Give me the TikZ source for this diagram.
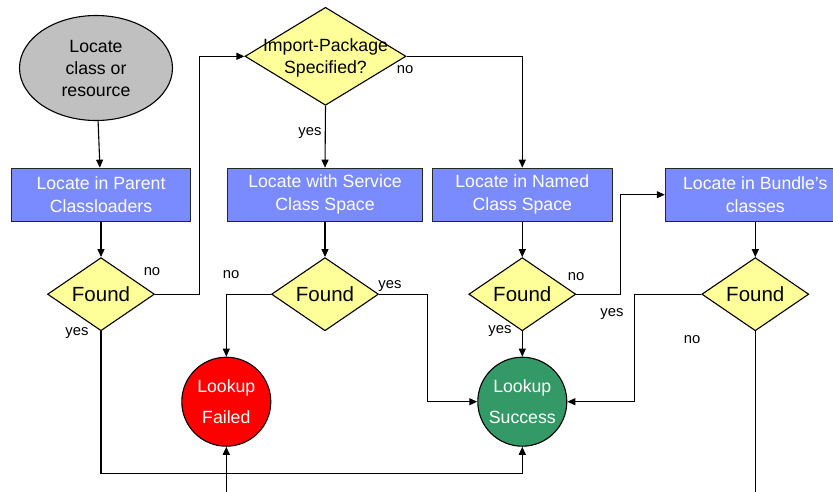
\documentclass[tikz,border=0pt]{standalone}
\usepackage{fontspec}
\setmainfont{Liberation Sans}
\usetikzlibrary{shapes.geometric,arrows.meta}
\definecolor{boxblue}{RGB}{122,138,255}
\definecolor{dyellow}{RGB}{255,255,153}
\definecolor{egray}{RGB}{192,192,192}
\definecolor{sgreen}{RGB}{51,153,102}
\definecolor{fred}{RGB}{255,0,0}
\begin{document}
\begin{tikzpicture}[x=1pt,y=-1pt,line width=1.1pt,
  >={Triangle[length=8pt,width=7pt]},
  box/.style={draw=black!85,fill=boxblue,minimum width=180pt,minimum height=53pt,
    inner sep=0pt,text=white,align=center,font=\fontsize{17.7}{23}\selectfont,
    execute at begin node={\rule{0pt}{17pt}}},
  dec/.style={diamond,draw=black,fill=dyellow,minimum width=107pt,minimum height=72pt,
    inner sep=0pt,font=\fontsize{20.5}{24}\selectfont},
  endc/.style={circle,draw=black,minimum size=89pt,inner sep=0pt,text=white,
    align=center,font=\fontsize{17.7}{31}\selectfont},
  lbl/.style={inner sep=0pt,font=\fontsize{14.8}{17}\selectfont}]
\useasboundingbox (0,0) rectangle (833,491);
% nodes
\node[ellipse,draw=black,fill=egray,minimum width=153pt,minimum height=105pt,inner sep=0pt,
  align=center,font=\fontsize{17.7}{22}\selectfont] (start) at (96,68) {Locate\\class or\\resource};
\node[diamond,draw=black,fill=dyellow,minimum width=161pt,minimum height=98pt,inner sep=0pt] (imp) at (325.5,56.3) {};
\node[align=center,inner sep=0pt,font=\fontsize{17.7}{22}\selectfont] (imptext) at (325.5,58) {Import-Package\\Specified?};
\node[box,minimum width=179pt] (b1) at (101,194.7) {Locate in Parent\\Classloaders};
\node[box,minimum width=195.7pt] (b2) at (325,194.7) {Locate with Service\\Class Space};
\node[box] (b3) at (522.3,194.7) {Locate in Named\\Class Space};
\node[box] (b4) at (755.3,194.7) {Locate in Bundle’s\\classes};
\node[dec] (f1) at (101,294.2) {Found};
\node[dec] (f2) at (325,294.2) {Found};
\node[dec] (f3) at (522.3,294.2) {Found};
\node[dec] (f4) at (755.3,294.2) {Found};
\node[endc,fill=fred] (failed) at (226.3,401.7) {Lookup\\Failed};
\node[endc,fill=sgreen] (success) at (522.3,401.7) {Lookup\\Success};
% labels
\node[lbl] (lno0) at (405,70) {no};
\node[lbl] (lyes0) at (310,133) {yes};
\node[lbl] (lno1) at (152,272) {no};
\node[lbl] (lyes1) at (77,333) {yes};
\node[lbl] (lno2) at (231,275) {no};
\node[lbl] (lyes2) at (390,286) {yes};
\node[lbl] (lno3) at (576,277) {no};
\node[lbl] (lyes3) at (500,331) {yes};
\node[lbl] (lyes4) at (612,314) {yes};
\node[lbl] (lno4) at (692,340) {no};
% junction coordinates
\coordinate (j1) at (199.3,0);
\coordinate (j2) at (427.7,0);
\coordinate (j3) at (0,473.3);
\coordinate (j4) at (620.3,0);
\coordinate (j5) at (634.3,0);
\coordinate (bot2) at (226.3,492);
\coordinate (bot4) at (755.3,492);
% connectors
\draw[->] (start) -- (b1);
\draw[->] (imp.south) -- (b2.north);
\draw[->] (imp.east) -| (b3.north);
\draw[->] (b1) -- (f1);
\draw[->] (b2) -- (f2);
\draw[->] (b3) -- (f3);
\draw[->] (b4) -- (f4);
\draw[->] (f1.east) -- (f1.east -| j1) |- (imp.west);
\draw[->] (f1.south) -- (f1.south |- j3) -| (success.south);
\draw[->] (f2.west) -| (failed.north);
\draw[->] (f2.east) -- (f2.east -| j2) |- (success.west);
\draw[->] (f3.south) -- (success.north);
\draw[->] (f3.east) -- (f3.east -| j4) |- (b4.west);
\draw[->] (f4.west) -- (f4.west -| j5) |- (success.east);
\draw (f4.south) -- (bot4);
\draw[->] (bot2) -- (failed.south);
\end{tikzpicture}
\end{document}
